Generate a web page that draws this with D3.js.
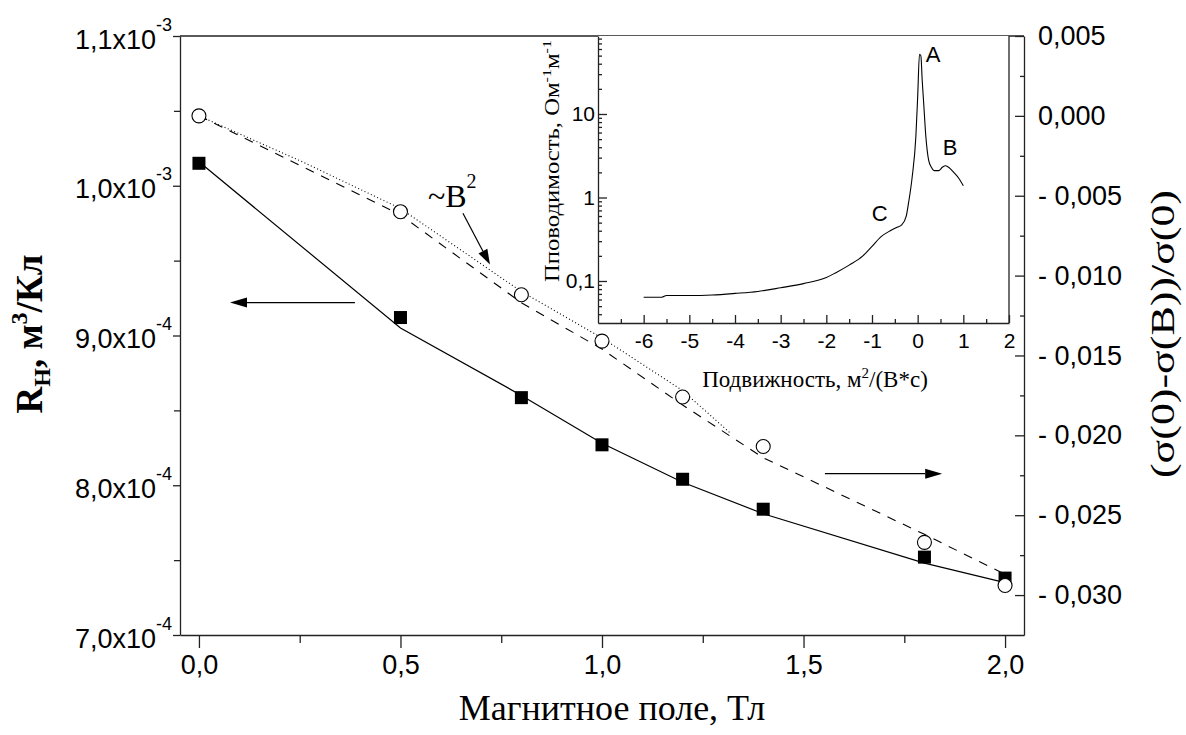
<!DOCTYPE html>
<html>
<head>
<meta charset="utf-8">
<script src="https://cdn.jsdelivr.net/npm/d3@7"></script>
<style>
  body { margin: 0; background: #fff; }
</style>
</head>
<body>
<svg id="chart" width="1186" height="735"></svg>
<script>
// ---- data ----
var field = [0, 0.5, 0.8, 1.0, 1.2, 1.4, 1.8, 2.0];
var hallR = [1.015e-3, 9.12e-4, 8.585e-4, 8.27e-4, 8.04e-4, 7.84e-4, 7.52e-4, 7.38e-4];
var hallFit = [1.016e-3, 9.05e-4, 8.6e-4, 8.28e-4, 8.02e-4, 7.81e-4, 7.48e-4, 7.35e-4];
var magnetoR = [0, -0.0060, -0.0112, -0.0141, -0.0176, -0.0207, -0.0267, -0.0294];
var dashedFit = [0, -0.0062, -0.0117, -0.0146, -0.0181, -0.0214, -0.0262, -0.0287];
var b2Field = [0, 0.25, 0.5, 0.8, 1.0, 1.2, 1.32];
var b2Fit = [0, -0.0028, -0.0058, -0.0110, -0.0139, -0.0172, -0.0199];

// inset: mobility spectrum
var mobility = [-6, -5.6, -5.5, -5, -4.5, -4, -3.5, -3, -2.5, -2, -1.8, -1.5, -1.2, -1.0, -0.8, -0.6, -0.45, -0.35, -0.25, -0.2,
  -0.12, -0.04, 0, 0.04, 0.07, 0.1, 0.13, 0.18, 0.24, 0.3, 0.36, 0.46, 0.54, 0.61, 0.7, 0.79, 0.9, 1.0];
var conductivity = [0.064, 0.064, 0.067, 0.067, 0.068, 0.071, 0.075, 0.083, 0.093, 0.11, 0.125, 0.155, 0.2, 0.26, 0.34, 0.40, 0.44, 0.47, 0.6, 0.86,
  1.76, 5.3, 16, 52, 50, 25, 14, 5.3, 2.8, 2.3, 2.1, 2.1, 2.3, 2.4, 2.25, 2.0, 1.7, 1.38];

// ticks
var fieldTicks = [0, 0.5, 1.0, 1.5, 2.0];
var fieldMinor = [0.25, 0.75, 1.25, 1.75];
var leftTicks = [7e-4, 8e-4, 9e-4, 1e-3, 1.1e-3];
var leftMinor = [7.5e-4, 8.5e-4, 9.5e-4, 1.05e-3];
var rightTicks = [0.005, 0, -0.005, -0.010, -0.015, -0.020, -0.025, -0.030];
var rightMinor = [0.0025, -0.0025, -0.0075, -0.0125, -0.0175, -0.0225, -0.0275];
var insetXTicks = [-6, -5, -4, -3, -2, -1, 0, 1, 2];
var insetXMinor = [-6.5, -5.5, -4.5, -3.5, -2.5, -1.5, -0.5, 0.5, 1.5];
var insetYTicks = [0.1, 1, 10];
var insetYMinor = [0.04, 0.05, 0.06, 0.07, 0.08, 0.09, 0.2, 0.3, 0.4, 0.5, 0.6, 0.7, 0.8, 0.9,
  2, 3, 4, 5, 6, 7, 8, 9, 20, 30, 40, 50, 60, 70, 80];

var SANS = "'Liberation Sans', Arial, sans-serif";
var SERIF = "'Liberation Serif', 'Times New Roman', serif";

var svg = d3.select("#chart");

// scales
var x = d3.scaleLinear().domain([-0.047, 2.047]).range([180, 1024]);
var yLeft = d3.scaleLinear().domain([7e-4, 1.1e-3]).range([635, 36]);
var yRight = d3.scaleLinear().domain([-0.0325, 0.005]).range([635, 36]);

var xIn = d3.scaleLinear().domain([-7, 2]).range([598, 1009]);
var yIn = d3.scaleLog().domain([0.0314, 85.9]).range([323, 36]);

function styleAxis(g, size) {
  g.attr("font-family", SANS).attr("font-size", size);
  g.selectAll("line, path").attr("stroke", "#222").attr("stroke-width", 1.3);
  return g;
}

// ---- main axes ----
var bottom = svg.append("g")
  .attr("transform", `translate(0,${yLeft.range()[0]})`)
  .call(d3.axisBottom(x).tickValues(fieldTicks).tickSize(13).tickSizeOuter(0).tickPadding(7)
    .tickFormat(d => d.toFixed(1).replace(".", ",")));
styleAxis(bottom, 27);
var bottomMinor = svg.append("g")
  .attr("transform", `translate(0,${yLeft.range()[0]})`)
  .call(d3.axisBottom(x).tickValues(fieldMinor).tickSize(8).tickFormat(""));
bottomMinor.select(".domain").remove();
styleAxis(bottomMinor, 27);

var left = svg.append("g")
  .attr("transform", `translate(${x.range()[0]},0)`)
  .call(d3.axisLeft(yLeft).tickValues(leftTicks).tickSize(7).tickSizeOuter(0).tickPadding(1).tickFormat(""));
styleAxis(left, 27);
left.selectAll(".tick text").attr("dy", "0.45em").each(function (d) {
  var e = Math.floor(Math.log10(d) + 1e-9);
  var m = (d / Math.pow(10, e)).toFixed(1).replace(".", ",");
  var t = d3.select(this);
  t.append("tspan").text(m + "x10");
  t.append("tspan").attr("dy", -18).attr("font-size", 18).text(e);
});
var leftMin = svg.append("g")
  .attr("transform", `translate(${x.range()[0]},0)`)
  .call(d3.axisLeft(yLeft).tickValues(leftMinor).tickSize(6).tickFormat(""));
leftMin.select(".domain").remove();
styleAxis(leftMin, 27);

var right = svg.append("g")
  .attr("transform", `translate(${x.range()[1]},0)`)
  .call(d3.axisRight(yRight).tickValues(rightTicks).tickSize(-9).tickSizeOuter(0).tickPadding(14)
    .tickFormat(d => (d < 0 ? "- " : "") + Math.abs(d).toFixed(3).replace(".", ",")));
styleAxis(right, 27);
var rightMin = svg.append("g")
  .attr("transform", `translate(${x.range()[1]},0)`)
  .call(d3.axisRight(yRight).tickValues(rightMinor).tickSize(-4).tickFormat(""));
rightMin.select(".domain").remove();
styleAxis(rightMin, 27);

// top frame
svg.append("line")
  .attr("x1", x.range()[0]).attr("x2", x.range()[1])
  .attr("y1", yLeft.range()[1]).attr("y2", yLeft.range()[1])
  .attr("stroke", "#222").attr("stroke-width", 1.3);

// ---- main series ----
var lineLeft = d3.line().x(d => x(d[0])).y(d => yLeft(d[1]));
var lineRight = d3.line().x(d => x(d[0])).y(d => yRight(d[1]));

svg.append("path")
  .attr("d", lineRight(d3.zip(field, dashedFit)))
  .attr("fill", "none").attr("stroke", "#000").attr("stroke-width", 1.1)
  .attr("stroke-dasharray", "9,8");

svg.append("path")
  .attr("d", lineRight(d3.zip(b2Field, b2Fit)))
  .attr("fill", "none").attr("stroke", "#000").attr("stroke-width", 1.1)
  .attr("stroke-dasharray", "1,2.5");

svg.append("path")
  .attr("d", lineLeft(d3.zip(field, hallFit)))
  .attr("fill", "none").attr("stroke", "#000").attr("stroke-width", 1.2);

svg.append("g").selectAll("rect")
  .data(d3.zip(field, hallR))
  .enter().append("rect")
  .attr("x", d => x(d[0]) - 6.5)
  .attr("y", d => yLeft(d[1]) - 6.5)
  .attr("width", 13).attr("height", 13)
  .attr("fill", "#000");

svg.append("g").selectAll("circle")
  .data(d3.zip(field, magnetoR))
  .enter().append("circle")
  .attr("cx", d => x(d[0]))
  .attr("cy", d => yRight(d[1]))
  .attr("r", 7)
  .attr("fill", "#fff").attr("stroke", "#000").attr("stroke-width", 1.1);

// ---- annotations ----
function arrow(x1, y1, x2, y2, len, half) {
  var a = Math.atan2(y2 - y1, x2 - x1);
  var bx = x2 - len * Math.cos(a), by = y2 - len * Math.sin(a);
  svg.append("line").attr("x1", x1).attr("y1", y1).attr("x2", bx).attr("y2", by)
    .attr("stroke", "#000").attr("stroke-width", 1.2);
  var px = -Math.sin(a) * half, py = Math.cos(a) * half;
  svg.append("polygon")
    .attr("points", [[x2, y2], [bx + px, by + py], [bx - px, by - py]].map(p => p.join(",")).join(" "))
    .attr("fill", "#000");
}
arrow(x(0.387), yLeft(9.22e-4), x(0.077), yLeft(9.22e-4), 17, 5);
arrow(x(1.553), yRight(-0.0224), x(1.844), yRight(-0.0224), 17, 5);
arrow(x(0.655), yRight(-0.0061), x(0.722), yRight(-0.0093), 15, 5);

var b2 = svg.append("text")
  .attr("x", x(0.568)).attr("y", yRight(-0.0057))
  .attr("font-family", SERIF).attr("font-size", 32);
b2.append("tspan").text("~B");
b2.append("tspan").attr("dy", -19).attr("font-size", 20).text("2");

// ---- axis titles ----
svg.append("text")
  .attr("x", 612).attr("y", 720)
  .attr("text-anchor", "middle")
  .attr("font-family", SERIF).attr("font-size", 36)
  .text("Магнитное поле, Тл");

var lt = svg.append("text")
  .attr("transform", "translate(42,334) rotate(-90)")
  .attr("text-anchor", "middle")
  .attr("font-family", SERIF).attr("font-size", 37).attr("font-weight", "bold");
lt.append("tspan").text("R");
lt.append("tspan").attr("dy", 8).attr("font-size", 24).text("H");
lt.append("tspan").attr("dy", -8).text(", м");
lt.append("tspan").attr("dy", -15).attr("font-size", 24).text("3");
lt.append("tspan").attr("dy", 15).text("/Кл");

svg.append("text")
  .attr("transform", "translate(1174,334) rotate(-90)")
  .attr("text-anchor", "middle")
  .attr("font-family", SERIF).attr("font-size", 34)
  .attr("textLength", 288).attr("lengthAdjust", "spacingAndGlyphs")
  .text("(σ(0)-σ(B))/σ(0)");

// ---- inset ----
svg.append("rect")
  .attr("x", xIn.range()[0]).attr("y", yIn.range()[1])
  .attr("width", xIn.range()[1] - xIn.range()[0])
  .attr("height", yIn.range()[0] - yIn.range()[1])
  .attr("fill", "#fff");

var inX = svg.append("g")
  .attr("transform", `translate(0,${yIn.range()[0]})`)
  .call(d3.axisBottom(xIn).tickValues(insetXTicks).tickSize(-8).tickSizeOuter(0).tickPadding(10)
    .tickFormat(d => String(d)));
styleAxis(inX, 21);
var inXm = svg.append("g")
  .attr("transform", `translate(0,${yIn.range()[0]})`)
  .call(d3.axisBottom(xIn).tickValues(insetXMinor).tickSize(-4).tickFormat(""));
inXm.select(".domain").remove();
styleAxis(inXm, 21);

var inY = svg.append("g")
  .attr("transform", `translate(${xIn.range()[0]},0)`)
  .call(d3.axisLeft(yIn).tickValues(insetYTicks).tickSize(-9).tickSizeOuter(0).tickPadding(3)
    .tickFormat(d => String(d).replace(".", ",")));
styleAxis(inY, 21);
var inYm = svg.append("g")
  .attr("transform", `translate(${xIn.range()[0]},0)`)
  .call(d3.axisLeft(yIn).tickValues(insetYMinor).tickSize(-4).tickFormat(""));
inYm.select(".domain").remove();
styleAxis(inYm, 21);

svg.append("line")
  .attr("x1", xIn.range()[1]).attr("x2", xIn.range()[1])
  .attr("y1", yIn.range()[0]).attr("y2", yIn.range()[1])
  .attr("stroke", "#222").attr("stroke-width", 1.3);

svg.append("path")
  .attr("d", d3.line().x(d => xIn(d[0])).y(d => yIn(d[1])).curve(d3.curveMonotoneX)(d3.zip(mobility, conductivity)))
  .attr("fill", "none").attr("stroke", "#000").attr("stroke-width", 1.1);

[["A", 0.34, 51], ["B", 0.71, 4.0], ["C", -0.83, 0.64]].forEach(function (p) {
  svg.append("text")
    .attr("x", xIn(p[1])).attr("y", yIn(p[2]))
    .attr("text-anchor", "middle").attr("dominant-baseline", "central")
    .attr("font-family", SANS).attr("font-size", 22)
    .text(p[0]);
});

svg.append("text")
  .attr("x", 815).attr("y", 387)
  .attr("text-anchor", "middle")
  .attr("font-family", SERIF).attr("font-size", 23)
  .call(t => {
    t.append("tspan").text("Подвижность, м");
    t.append("tspan").attr("dy", -9).attr("font-size", 15).text("2");
    t.append("tspan").attr("dy", 9).text("/(В*с)");
  });

svg.append("text")
  .attr("transform", "translate(559,161) rotate(-90)")
  .attr("text-anchor", "middle")
  .attr("font-family", SERIF).attr("font-size", 20)
  .attr("textLength", 242).attr("lengthAdjust", "spacingAndGlyphs")
  .call(t => {
    t.append("tspan").text("Пповодимость, Ом");
    t.append("tspan").attr("dy", -8).attr("font-size", 13).text("-1");
    t.append("tspan").attr("dy", 8).text("м");
    t.append("tspan").attr("dy", -8).attr("font-size", 13).text("-1");
  });
</script>
</body>
</html>
